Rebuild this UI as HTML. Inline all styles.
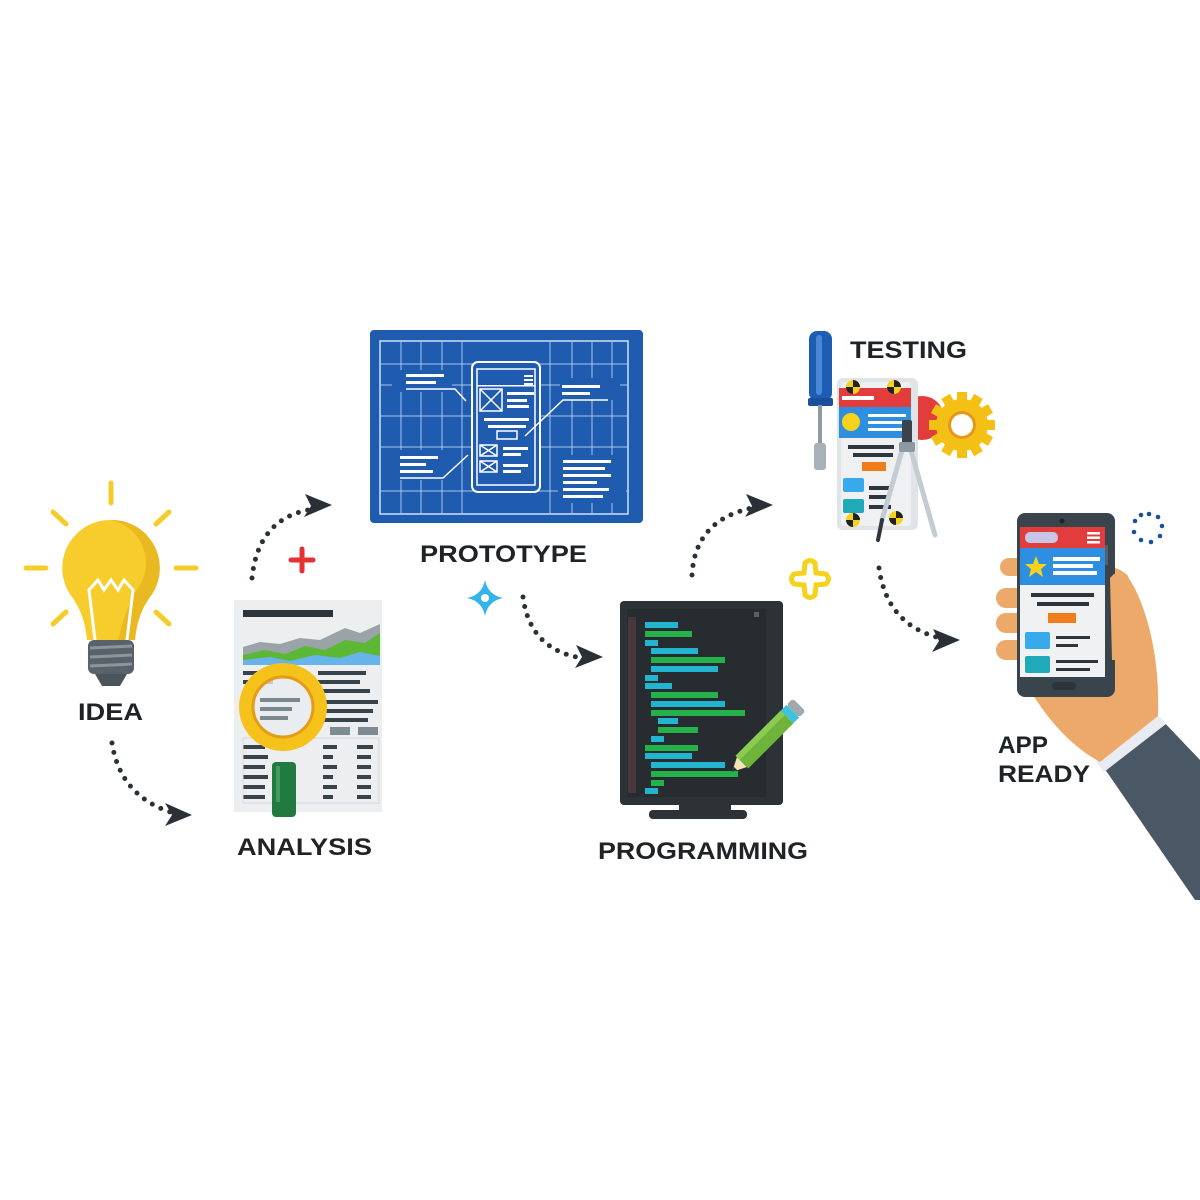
<!DOCTYPE html>
<html><head><meta charset="utf-8"><style>
html,body{margin:0;padding:0;background:#fff}
svg{display:block}
text{font-family:"Liberation Sans",sans-serif;font-weight:bold;fill:#1f2326}
</style></head><body>
<svg width="1200" height="1200" viewBox="0 0 1200 1200" xmlns="http://www.w3.org/2000/svg">
<rect width="1200" height="1200" fill="#fff"/>

<!-- IDEA bulb -->
<g stroke="#f5cc2a" stroke-width="5" stroke-linecap="round">
<line x1="111" y1="483" x2="111" y2="503"/>
<line x1="53" y1="512" x2="66" y2="524"/>
<line x1="169" y1="512" x2="156" y2="524"/>
<line x1="26" y1="568" x2="46" y2="568"/>
<line x1="176" y1="568" x2="196" y2="568"/>
<line x1="53" y1="624" x2="66" y2="612"/>
<line x1="169" y1="624" x2="156" y2="612"/>
</g>
<path d="M111 520 A48 48 0 0 1 150 597 Q137 615 135 640 L87 640 Q85 615 72 597 A48 48 0 0 1 111 520Z" fill="#f7cd2e"/>
<path d="M111 520 A48 48 0 0 1 150 597 Q137 615 135 640 L118 640 Q128 600 140 585 A44 44 0 0 0 111 520Z" fill="#eab921"/>
<path d="M95 640 L89 590 L98 580 L104 590 L111 580 L118 590 L124 580 L133 590 L127 640" fill="none" stroke="#fff" stroke-width="3"/>
<rect x="88" y="640" width="46" height="34" rx="6" fill="#59626a"/>
<g stroke="#8d959c" stroke-width="3"><line x1="90" y1="648" x2="132" y2="646"/><line x1="90" y1="657" x2="132" y2="655"/><line x1="90" y1="666" x2="132" y2="664"/></g>
<path d="M95 674 L127 674 L120 686 L102 686Z" fill="#4c555c"/>
<text x="78" y="720" font-size="24" textLength="65" lengthAdjust="spacingAndGlyphs">IDEA</text>

<!-- dotted arrows -->
<g fill="none" stroke="#2a3035" stroke-width="5" stroke-linecap="round" stroke-dasharray="0 9.5">
<path d="M112 743 Q120 795 170 812"/>
<path d="M252 578 Q258 520 308 510"/>
<path d="M523 597 Q530 650 582 658"/>
<path d="M692 575 Q695 520 752 508"/>
<path d="M879 568 Q887 625 940 638"/>
</g>
<g fill="#2a3035">
<path d="M192 815 L165 803 L172 815 L165 826Z"/>
<path d="M332 505 L305 494 L311 506 L304 517Z"/>
<path d="M603 657 L576 645 L582 657 L575 668Z"/>
<path d="M773 505 L746 494 L752 506 L745 517Z"/>
<path d="M960 640 L933 629 L939 641 L932 652Z"/>
</g>

<!-- red plus -->
<g stroke="#e53333" stroke-width="5" stroke-linecap="round"><line x1="302" y1="549" x2="302" y2="571"/><line x1="291" y1="560" x2="313" y2="560"/></g>

<!-- ANALYSIS doc -->
<rect x="234" y="600" width="148" height="212" fill="#eceef0"/>
<rect x="243" y="610" width="90" height="7" fill="#2e363d"/>
<path d="M243 647 L260 642 L280 644 L300 638 L320 640 L345 628 L360 633 L380 624 L380 665 L243 665Z" fill="#9aa3a8"/>
<path d="M243 655 L265 650 L285 654 L305 646 L325 650 L345 640 L365 643 L380 633 L380 665 L243 665Z" fill="#5cb735"/>
<path d="M243 660 L270 657 L290 661 L315 655 L340 658 L360 652 L380 656 L380 665 L243 665Z" fill="#66b4ea"/>
<g fill="#38424a">
<rect x="243" y="671" width="40" height="4"/><rect x="318" y="671" width="48" height="4"/>
<rect x="243" y="680" width="30" height="4"/><rect x="318" y="680" width="42" height="4"/>
<rect x="318" y="689" width="52" height="4"/><rect x="318" y="700" width="60" height="4"/>
<rect x="318" y="709" width="55" height="4"/><rect x="318" y="718" width="50" height="4"/>
<rect x="243" y="745" width="22" height="4"/><rect x="323" y="745" width="14" height="4"/><rect x="357" y="745" width="16" height="4"/>
<rect x="243" y="755" width="25" height="4"/><rect x="323" y="755" width="10" height="4"/><rect x="357" y="755" width="14" height="4"/>
<rect x="243" y="765" width="22" height="4"/><rect x="323" y="765" width="14" height="4"/><rect x="357" y="765" width="14" height="4"/>
<rect x="243" y="775" width="25" height="4"/><rect x="323" y="775" width="10" height="4"/><rect x="357" y="775" width="14" height="4"/>
<rect x="243" y="785" width="22" height="4"/><rect x="323" y="785" width="14" height="4"/><rect x="357" y="785" width="14" height="4"/>
<rect x="243" y="795" width="22" height="4"/><rect x="323" y="795" width="10" height="4"/><rect x="357" y="795" width="14" height="4"/>
</g>
<g fill="#7d8b93"><rect x="330" y="727" width="20" height="8"/><rect x="358" y="727" width="20" height="8"/></g>
<rect x="243" y="738" width="136" height="65" fill="none" stroke="#d5d9dc"/>
<rect x="272" y="762" width="24" height="55" rx="4" fill="#217a3f"/>
<rect x="276" y="766" width="4" height="36" fill="#3f9c5d"/>
<circle cx="283" cy="707" r="37" fill="none" stroke="#f5c21b" stroke-width="14"/>
<circle cx="283" cy="707" r="30" fill="#e8ecef" fill-opacity="0.8" stroke="#e39b18" stroke-width="3"/>
<g fill="#7c8890"><rect x="260" y="698" width="40" height="4"/><rect x="260" y="707" width="32" height="4"/><rect x="260" y="716" width="28" height="4"/></g>
<text x="237" y="855" font-size="24" textLength="135" lengthAdjust="spacingAndGlyphs">ANALYSIS</text>

<!-- PROTOTYPE blueprint -->
<rect x="370" y="330" width="273" height="193" rx="4" fill="#1f5cb0"/>
<rect x="380" y="341" width="248" height="173" fill="none" stroke="#cfe0f5" stroke-width="1.5"/>
<g stroke="#a9c6ea" stroke-width="1">
<line x1="380" y1="364" x2="628" y2="364"/><line x1="380" y1="385" x2="628" y2="385"/><line x1="380" y1="416" x2="628" y2="416"/><line x1="380" y1="447" x2="628" y2="447"/><line x1="380" y1="491" x2="628" y2="491"/>
<line x1="401" y1="341" x2="401" y2="514"/><line x1="421" y1="341" x2="421" y2="514"/><line x1="442" y1="341" x2="442" y2="514"/><line x1="462" y1="341" x2="462" y2="514"/>
<line x1="550" y1="341" x2="550" y2="514"/><line x1="572" y1="341" x2="572" y2="514"/><line x1="592" y1="341" x2="592" y2="514"/><line x1="612" y1="341" x2="612" y2="514"/>
</g>
<rect x="392" y="370" width="60" height="22" fill="#1f5cb0"/>
<rect x="560" y="378" width="60" height="22" fill="#1f5cb0"/>
<rect x="392" y="450" width="60" height="30" fill="#1f5cb0"/>
<rect x="558" y="455" width="68" height="48" fill="#1f5cb0"/>
<rect x="472" y="362" width="68" height="130" rx="6" fill="#1f5cb0" stroke="#fff" stroke-width="2"/>
<rect x="477" y="369" width="58" height="116" fill="none" stroke="#fff" stroke-width="1.5"/>
<g fill="#fff">
<rect x="406" y="374" width="38" height="3"/><rect x="406" y="381" width="30" height="3"/>
<rect x="562" y="385" width="38" height="3"/><rect x="562" y="392" width="28" height="3"/>
<rect x="400" y="456" width="38" height="3"/><rect x="400" y="463" width="26" height="3"/><rect x="400" y="470" width="33" height="3"/>
<rect x="563" y="460" width="48" height="3"/><rect x="563" y="467" width="42" height="3"/><rect x="563" y="474" width="48" height="3"/><rect x="563" y="481" width="34" height="3"/><rect x="563" y="488" width="46" height="3"/><rect x="563" y="495" width="40" height="3"/>
<rect x="507" y="392" width="27" height="3"/><rect x="507" y="399" width="20" height="3"/><rect x="507" y="405" width="22" height="3"/>
<rect x="484" y="418" width="45" height="3"/><rect x="488" y="425" width="38" height="3"/>
<rect x="503" y="447" width="25" height="3"/><rect x="503" y="453" width="18" height="3"/><rect x="503" y="464" width="25" height="3"/><rect x="503" y="470" width="18" height="3"/>
<rect x="524" y="375" width="9" height="2"/><rect x="524" y="379" width="9" height="2"/><rect x="524" y="383" width="9" height="2"/>
</g>
<rect x="477" y="385" width="58" height="1.5" fill="#fff"/>
<g fill="none" stroke="#fff" stroke-width="1.5">
<rect x="480" y="389" width="22" height="22"/><path d="M480 389 L502 411 M502 389 L480 411"/>
<rect x="480" y="445" width="17" height="11"/><path d="M480 445 L497 456 M497 445 L480 456"/>
<rect x="480" y="461" width="17" height="11"/><path d="M480 461 L497 472 M497 461 L480 472"/>
<rect x="497" y="431" width="20" height="8"/>
<path d="M406 389 L455 389 L466 401"/><path d="M400 478 L443 478 L468 455"/><path d="M525 436 L563 400 L608 400"/>
</g>
<text x="420" y="562" font-size="24" textLength="167" lengthAdjust="spacingAndGlyphs">PROTOTYPE</text>

<!-- blue sparkle -->
<path d="M485 580 Q488 595 503 598 Q488 601 485 616 Q482 601 467 598 Q482 595 485 580Z" fill="#35b3ec"/>
<circle cx="485" cy="598" r="4" fill="#fff"/>

<!-- PROGRAMMING monitor -->
<rect x="620" y="601" width="163" height="204" rx="4" fill="#2c3236"/>
<rect x="627" y="609" width="139" height="188" fill="#262c30"/>
<rect x="628" y="617" width="8" height="176" fill="#47383c"/>
<rect x="679" y="805" width="52" height="6" fill="#2c3236"/>
<rect x="649" y="810" width="98" height="9" rx="4" fill="#2c3236"/>
<rect x="754" y="612" width="5" height="5" fill="#5a6166"/>
<g>
<rect x="645" y="622" width="33" height="6" fill="#23b4d0"/>
<rect x="645" y="631" width="47" height="6" fill="#26b24a"/>
<rect x="645" y="640" width="13" height="6" fill="#23b4d0"/>
<rect x="651" y="648" width="47" height="6" fill="#23b4d0"/>
<rect x="651" y="657" width="74" height="6" fill="#26b24a"/>
<rect x="651" y="666" width="67" height="6" fill="#23b4d0"/>
<rect x="645" y="675" width="13" height="6" fill="#23b4d0"/>
<rect x="645" y="683" width="27" height="6" fill="#23b4d0"/>
<rect x="651" y="692" width="67" height="6" fill="#26b24a"/>
<rect x="651" y="701" width="74" height="6" fill="#23b4d0"/>
<rect x="651" y="710" width="94" height="6" fill="#26b24a"/>
<rect x="658" y="718" width="20" height="6" fill="#23b4d0"/>
<rect x="658" y="727" width="40" height="6" fill="#26b24a"/>
<rect x="651" y="736" width="13" height="6" fill="#23b4d0"/>
<rect x="645" y="745" width="53" height="6" fill="#26b24a"/>
<rect x="645" y="753" width="47" height="6" fill="#23b4d0"/>
<rect x="651" y="762" width="74" height="6" fill="#23b4d0"/>
<rect x="651" y="771" width="87" height="6" fill="#26b24a"/>
<rect x="651" y="780" width="13" height="6" fill="#26b24a"/>
<rect x="645" y="788" width="13" height="6" fill="#23b4d0"/>
</g>
<g transform="translate(732,772) rotate(-45)">
<path d="M0 0 L14 -7 L14 7Z" fill="#f3e2b3"/>
<path d="M0 0 L5 -2.5 L5 2.5Z" fill="#2a3035"/>
<rect x="14" y="-9" width="64" height="18" fill="#6fb43a"/>
<rect x="14" y="-9" width="64" height="6" fill="#8ccb52"/>
<rect x="78" y="-9" width="8" height="18" fill="#3ec3dd"/>
<rect x="86" y="-9" width="9" height="18" rx="3" fill="#a0a9ae"/>
</g>
<text x="598" y="859" font-size="24" textLength="210" lengthAdjust="spacingAndGlyphs">PROGRAMMING</text>

<!-- yellow plus outline -->
<path d="M805 563 Q810 558 815 563 L816 573 L826 574 Q831 579 826 584 L816 585 L815 595 Q810 600 805 595 L804 585 L794 584 Q789 579 794 574 L804 573Z" fill="none" stroke="#f6d21c" stroke-width="5"/>

<!-- TESTING -->
<rect x="809" y="331" width="23" height="70" rx="8" fill="#1d5db4"/>
<rect x="816" y="335" width="6" height="60" rx="3" fill="#4a87d6"/>
<rect x="808" y="398" width="25" height="8" rx="2" fill="#1a4f9c"/>
<rect x="818" y="405" width="4" height="40" fill="#8e9aa2"/>
<rect x="814" y="443" width="12" height="27" rx="3" fill="#a7b1b7"/>
<text x="850" y="358" font-size="24" textLength="117" lengthAdjust="spacingAndGlyphs">TESTING</text>
<circle cx="922" cy="418" r="22" fill="#e23c3c"/>
<rect x="837" y="378" width="81" height="152" rx="6" fill="#e1e4e7"/>
<rect x="841" y="382" width="70" height="144" rx="4" fill="#eef0f2"/>
<rect x="839" y="388" width="72" height="19" fill="#e23c3c"/>
<rect x="842" y="396" width="32" height="4" fill="#fff"/>
<rect x="839" y="407" width="72" height="31" fill="#2e8fe0"/>
<circle cx="851" cy="422" r="9" fill="#f6d31a"/>
<g fill="#fff"><rect x="868" y="414" width="38" height="3"/><rect x="868" y="421" width="34" height="3"/><rect x="868" y="428" width="38" height="3"/></g>
<g fill="#2e363d"><rect x="848" y="445" width="46" height="4"/><rect x="853" y="453" width="40" height="4"/><rect x="869" y="486" width="22" height="4"/><rect x="869" y="495" width="18" height="4"/><rect x="869" y="505" width="22" height="4"/></g>
<rect x="862" y="462" width="24" height="9" fill="#f07d1a"/>
<rect x="843" y="478" width="21" height="14" rx="2" fill="#36aaea"/>
<rect x="843" y="499" width="21" height="14" rx="2" fill="#1fa9b9"/>
<g>
<circle cx="853" cy="387" r="7" fill="#f6d31a"/><path d="M853 380 A7 7 0 0 1 860 387 L853 387Z M853 394 A7 7 0 0 1 846 387 L853 387Z" fill="#222"/>
<circle cx="894" cy="387" r="7" fill="#f6d31a"/><path d="M894 380 A7 7 0 0 1 901 387 L894 387Z M894 394 A7 7 0 0 1 887 387 L894 387Z" fill="#222"/>
<circle cx="853" cy="520" r="7" fill="#f6d31a"/><path d="M853 513 A7 7 0 0 1 860 520 L853 520Z M853 527 A7 7 0 0 1 846 520 L853 520Z" fill="#222"/>
<circle cx="896" cy="518" r="7" fill="#f6d31a"/><path d="M896 511 A7 7 0 0 1 903 518 L896 518Z M896 525 A7 7 0 0 1 889 518 L896 518Z" fill="#222"/>
</g>
<g transform="translate(962,425)">
<g fill="#f5c016">
<circle r="26"/>
<rect x="-5" y="-33" width="10" height="66"/>
<rect x="-5" y="-33" width="10" height="66" transform="rotate(30)"/>
<rect x="-5" y="-33" width="10" height="66" transform="rotate(60)"/>
<rect x="-5" y="-33" width="10" height="66" transform="rotate(90)"/>
<rect x="-5" y="-33" width="10" height="66" transform="rotate(120)"/>
<rect x="-5" y="-33" width="10" height="66" transform="rotate(150)"/>
</g>
<circle r="14" fill="#e8961a"/>
<circle r="11" fill="#fff"/>
</g>
<g stroke-linecap="round">
<line x1="905" y1="440" x2="882" y2="520" stroke="#c3ccd2" stroke-width="5"/>
<line x1="908" y1="440" x2="935" y2="535" stroke="#c3ccd2" stroke-width="5"/>
<line x1="882" y1="520" x2="878" y2="540" stroke="#2e363d" stroke-width="4"/>
</g>
<rect x="902" y="420" width="10" height="30" rx="2" fill="#3b444b"/>
<rect x="899" y="442" width="16" height="10" rx="2" fill="#8e9aa2"/>

<!-- APP READY hand & phone -->
<path d="M1100 762 L1160 718 L1200 760 L1200 900 L1195 900 Z" fill="#4a5866"/>
<path d="M1096 762 L1158 716 L1166 724 L1104 772 Z" fill="#e8ecf2"/>
<path d="M1030 690 Q1060 740 1100 762 L1158 716 Q1160 650 1140 600 Q1128 570 1115 568 L1100 600 L1090 690Z" fill="#eca96a"/>
<g fill="#eca96a">
<rect x="996" y="588" width="30" height="20" rx="10"/>
<rect x="996" y="613" width="30" height="20" rx="10"/>
<rect x="996" y="640" width="30" height="20" rx="10"/>
<rect x="1000" y="558" width="24" height="18" rx="9"/>
</g>
<rect x="1017" y="513" width="98" height="184" rx="8" fill="#3a444c"/>
<rect x="1104" y="545" width="4" height="20" fill="#56616a"/>
<circle cx="1062" cy="521" r="2.5" fill="#222"/>
<rect x="1020" y="527" width="85" height="150" fill="#f0f1f3"/>
<rect x="1020" y="527" width="85" height="21" fill="#e23c3c"/>
<rect x="1025" y="532" width="33" height="11" rx="5" fill="#c7c6e6"/>
<g fill="#fff"><rect x="1087" y="532" width="13" height="2.5"/><rect x="1087" y="536.5" width="13" height="2.5"/><rect x="1087" y="541" width="13" height="2.5"/></g>
<rect x="1020" y="548" width="85" height="37" fill="#2e8fe0"/>
<path d="M1036 556 L1039 564 L1047 564 L1041 569 L1043 577 L1036 572 L1029 577 L1031 569 L1025 564 L1033 564Z" fill="#f6d31a"/>
<g fill="#fff"><rect x="1053" y="557" width="47" height="4"/><rect x="1053" y="564" width="40" height="4"/><rect x="1053" y="571" width="44" height="4"/></g>
<g fill="#2e363d"><rect x="1031" y="593" width="63" height="4"/><rect x="1037" y="602" width="52" height="4"/><rect x="1056" y="636" width="34" height="3"/><rect x="1056" y="644" width="22" height="3"/><rect x="1056" y="660" width="42" height="3"/><rect x="1056" y="668" width="34" height="3"/></g>
<rect x="1048" y="613" width="28" height="10" fill="#f07d1a"/>
<rect x="1025" y="632" width="25" height="17" rx="2" fill="#36aaea"/>
<rect x="1025" y="656" width="25" height="17" rx="2" fill="#1fa9b9"/>
<rect x="1052" y="682" width="24" height="8" rx="4" fill="#2c353c"/>
<path d="M1110 578 Q1120 566 1128 576 Q1145 620 1150 660 L1112 660Z" fill="#eca96a"/>
<g fill="#1d4e9c">
<circle cx="1149" cy="514" r="2.3"/><circle cx="1158" cy="517" r="2.3"/><circle cx="1162" cy="526" r="2.3"/><circle cx="1160" cy="536" r="2.3"/><circle cx="1151" cy="542" r="2.3"/><circle cx="1141" cy="540" r="2.3"/><circle cx="1134" cy="532" r="2.3"/><circle cx="1135" cy="521" r="2.3"/><circle cx="1141" cy="515" r="2.3"/>
</g>
<text x="998" y="753" font-size="24" textLength="50" lengthAdjust="spacingAndGlyphs">APP</text>
<text x="998" y="782" font-size="24" textLength="92" lengthAdjust="spacingAndGlyphs">READY</text>
</svg>
</body></html>
